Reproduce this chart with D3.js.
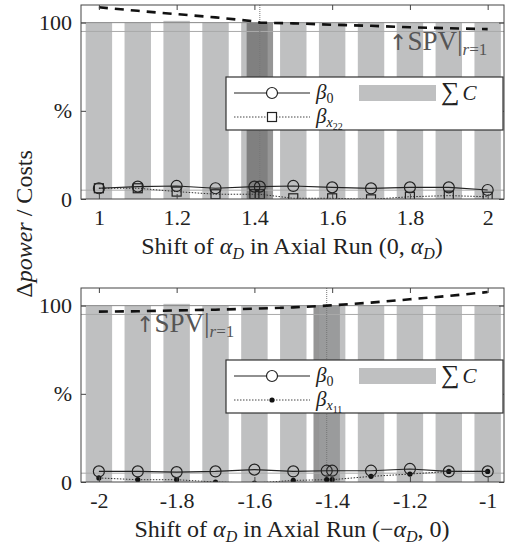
<!DOCTYPE html>
<html>
<head>
<meta charset="utf-8">
<script src="https://d3js.org/d3.v7.min.js"></script>
<style>
  body { margin: 0; background: #fff; }
  text { font-family: "Liberation Serif", "DejaVu Serif", serif; fill: #222; }
</style>
</head>
<body>
<div id="chart"></div>
<script>
// data
var xTop = [1, 1.1, 1.2, 1.3, 1.4, 1.414, 1.5, 1.6, 1.7, 1.8, 1.9, 2];
var costTop = [100, 100, 101, 100, 100, 100, 100, 100, 100, 100, 100, 100];
var spvTop = [108.7, 106.7, 104.8, 103, 100.7, 100, 99.6, 98.8, 98.2, 97.4, 96.8, 96.3];
var beta0Top = [6.1, 7, 7.4, 6.1, 7, 7, 7.4, 6.6, 6, 6.6, 6.6, 5.1];
var betaX22Top = [6.1, 6.1, 4.2, 2.7, 2.7, 2.7, 0.4, 0.4, -0.2, 1.3, 1.9, 1.3];
var xTicksTop = [1, 1.2, 1.4, 1.6, 1.8, 2];

var xBot = [-2, -1.9, -1.8, -1.7, -1.6, -1.5, -1.414, -1.4, -1.3, -1.2, -1.1, -1];
var costBot = [100, 100, 101, 100, 100, 100, 100, 100, 100, 100, 100, 100];
var spvBot = [96.6, 96.8, 97.3, 97.7, 98.3, 99, 100, 100.2, 101.7, 103.6, 105.5, 107.7];
var beta0Bot = [6, 6, 5.6, 6, 7, 6, 6.4, 6.4, 6.4, 7.4, 6, 6];
var betaX11Bot = [2.3, 1.3, 1.3, 0, -0.6, 0.9, 1.3, 1.3, 3.2, 4.5, 6, 6];
var xTicksBot = [-2, -1.8, -1.6, -1.4, -1.2, -1];

var yTicks = [0, 50, 100];
var yTickLabels = ["0", "%", "100"];
var refLines = [100, 95, 5];

var width = 507, height = 546;
var left = 81, right = 504;

var svg = d3.select("#chart").append("svg")
    .attr("width", width)
    .attr("height", height);

function drawPanel(p) {
    var x = d3.scaleLinear().domain(p.xDomain).range([left, right]);
    var y = d3.scaleLinear().domain([0, 110]).range([p.bottom, p.top]);
    var g = svg.append("g");
    var clipId = "clip" + p.id;
    svg.append("clipPath").attr("id", clipId)
      .append("rect").attr("x", left).attr("y", p.top)
        .attr("width", right - left).attr("height", p.bottom - p.top);
    var plot = g.append("g").attr("clip-path", "url(#" + clipId + ")");

    // cost bars
    var bw = x(0.068) - x(0);
    plot.selectAll(".bar")
      .data(p.xs)
      .enter().append("rect")
        .attr("x", function(d) { return x(d) - bw / 2; })
        .attr("width", bw)
        .attr("y", function(d, i) { return y(p.cost[i]); })
        .attr("height", function(d, i) { return y(0) - y(p.cost[i]); })
        .attr("fill", function(d) { return Math.abs(Math.abs(d) - 1.414) < 0.001 ? "#5e5e5e" : "#9d9e9f"; })
        .attr("fill-opacity", 0.65);

    // reference lines
    plot.selectAll(".ref")
      .data(refLines)
      .enter().append("line")
        .attr("x1", left).attr("x2", right)
        .attr("y1", function(d) { return y(d); })
        .attr("y2", function(d) { return y(d); })
        .attr("stroke", function(d) { return d == 100 ? "#888" : "#aaa"; })
        .attr("stroke-width", 1);

    // rotatable alpha marker
    plot.append("line")
        .attr("x1", x(p.rot)).attr("x2", x(p.rot))
        .attr("y1", p.top).attr("y2", p.bottom)
        .attr("stroke", "#777").attr("stroke-width", 1)
        .attr("stroke-dasharray", "1,1");

    // SPV dashed curve
    var line = d3.line()
        .x(function(d) { return x(d[0]); })
        .y(function(d) { return y(d[1]); });
    plot.append("path")
        .datum(d3.zip(p.xs, p.spv))
        .attr("d", line)
        .attr("fill", "none")
        .attr("stroke", "#111")
        .attr("stroke-width", 2.6)
        .attr("stroke-dasharray", "9,7");

    // beta_x line (dotted) and markers
    var bx = d3.zip(p.xs, p.betaX);
    plot.append("path")
        .datum(bx)
        .attr("d", line)
        .attr("fill", "none")
        .attr("stroke", "#333")
        .attr("stroke-width", 1)
        .attr("stroke-dasharray", "1.5,1.5");
    if (p.marker == "square") {
        plot.selectAll(".sq").data(bx).enter().append("rect")
            .attr("x", function(d) { return x(d[0]) - 4.5; })
            .attr("y", function(d) { return y(d[1]) - 4.5; })
            .attr("width", 9).attr("height", 9)
            .attr("fill", "none").attr("stroke", "#222").attr("stroke-width", 1.2);
    } else {
        plot.selectAll(".dot").data(bx).enter().append("circle")
            .attr("cx", function(d) { return x(d[0]); })
            .attr("cy", function(d) { return y(d[1]); })
            .attr("r", 2.6)
            .attr("fill", "#111");
    }

    // beta_0 line and circles
    var b0 = d3.zip(p.xs, p.beta0);
    plot.append("path")
        .datum(b0)
        .attr("d", line)
        .attr("fill", "none")
        .attr("stroke", "#222")
        .attr("stroke-width", 1.1);
    plot.selectAll(".circ").data(b0).enter().append("circle")
        .attr("cx", function(d) { return x(d[0]); })
        .attr("cy", function(d) { return y(d[1]); })
        .attr("r", 5.5)
        .attr("fill", "none").attr("stroke", "#222").attr("stroke-width", 1.2);

    // axes (ticks inside, MATLAB style)
    g.append("g").attr("transform", "translate(0," + p.bottom + ")")
        .call(d3.axisBottom(x).tickValues(p.ticks).tickSize(-5).tickPadding(10)
              .tickFormat(function(d) { return String(d); }))
        .call(styleAxis);
    g.append("g").attr("transform", "translate(0," + p.top + ")")
        .call(d3.axisTop(x).tickValues(p.ticks).tickSize(-5).tickFormat(""))
        .call(styleAxis);
    g.append("g").attr("transform", "translate(" + left + ",0)")
        .call(d3.axisLeft(y).tickValues(yTicks).tickSize(-5).tickPadding(9)
              .tickFormat(function(d, i) { return yTickLabels[i]; }))
        .call(styleAxis);
    g.append("g").attr("transform", "translate(" + right + ",0)")
        .call(d3.axisRight(y).tickValues(yTicks).tickSize(-5).tickFormat(""))
        .call(styleAxis);
    g.append("rect")
        .attr("x", left).attr("y", p.top)
        .attr("width", right - left).attr("height", p.bottom - p.top)
        .attr("fill", "none").attr("stroke", "#444").attr("stroke-width", 1);

    // x label
    var xl = g.append("text")
        .attr("x", 292).attr("y", p.bottom + 55)
        .attr("text-anchor", "middle")
        .style("font-size", "24px");
    xl.append("tspan").text("Shift of ");
    xl.append("tspan").style("font-style", "italic").text("α");
    xl.append("tspan").attr("dy", 5).style("font-size", "16px").style("font-style", "italic").text("D");
    xl.append("tspan").attr("dy", -5).text(" in Axial Run (" + p.labelPre);
    xl.append("tspan").style("font-style", "italic").text("α");
    xl.append("tspan").attr("dy", 5).style("font-size", "16px").style("font-style", "italic").text("D");
    xl.append("tspan").attr("dy", -5).text(p.labelPost + ")");

    // SPV annotation
    var an = g.append("text")
        .attr("x", p.annX).attr("y", p.annY)
        .style("font-size", "27px").style("fill", "#555");
    an.append("tspan")
        .style("font-family", "'DejaVu Sans', sans-serif")
        .style("font-size", "22px").text("↑");
    an.append("tspan").text("SPV");
    an.append("tspan").style("font-size", "28px").text("|");
    an.append("tspan").attr("dy", 5).style("font-size", "17px").style("font-style", "italic").text("r");
    an.append("tspan").style("font-size", "17px").text("=1");

    // legend
    var ly = p.top + 72;
    var lg = g.append("g");
    lg.append("rect")
        .attr("x", 226).attr("y", ly).attr("width", 277).attr("height", 53)
        .attr("fill", "#fff").attr("stroke", "#333").attr("stroke-width", 1.2);
    var r1 = ly + 16, r2 = ly + 40;
    lg.append("line").attr("x1", 234).attr("x2", 310).attr("y1", r1).attr("y2", r1)
        .attr("stroke", "#222").attr("stroke-width", 1.1);
    lg.append("circle").attr("cx", 272).attr("cy", r1).attr("r", 5.5)
        .attr("fill", "#fff").attr("stroke", "#222").attr("stroke-width", 1.2);
    lg.append("line").attr("x1", 234).attr("x2", 310).attr("y1", r2).attr("y2", r2)
        .attr("stroke", "#444").attr("stroke-width", 1).attr("stroke-dasharray", "1.5,1.5");
    if (p.marker == "square") {
        lg.append("rect").attr("x", 267.5).attr("y", r2 - 4.5).attr("width", 9).attr("height", 9)
            .attr("fill", "#fff").attr("stroke", "#222").attr("stroke-width", 1.2);
    } else {
        lg.append("circle").attr("cx", 272).attr("cy", r2).attr("r", 2.6).attr("fill", "#111");
    }
    lg.append("rect").attr("x", 359).attr("y", r1 - 8).attr("width", 77).attr("height", 16)
        .attr("fill", "#9d9e9f").attr("fill-opacity", 0.65);

    var t1 = lg.append("text").attr("x", 316).attr("y", r1 + 6).style("font-size", "21px");
    t1.append("tspan").style("font-style", "italic").text("β");
    t1.append("tspan").attr("dy", 4).style("font-size", "14px").text("0");
    var t2 = lg.append("text").attr("x", 316).attr("y", r2 + 6).style("font-size", "21px");
    t2.append("tspan").style("font-style", "italic").text("β");
    t2.append("tspan").attr("dy", 4).style("font-size", "14px").style("font-style", "italic").text("x");
    t2.append("tspan").attr("dy", 3).style("font-size", "10px").text(p.subIdx);
    var t3 = lg.append("text").attr("x", 441).attr("y", r1 + 7).style("font-size", "21px");
    t3.append("tspan").style("font-size", "26px").text("∑");
    t3.append("tspan").attr("dx", 3).style("font-style", "italic").text("C");
}

function styleAxis(sel) {
    sel.select(".domain").remove();
    sel.selectAll(".tick line").attr("stroke", "#444");
    sel.selectAll(".tick text")
        .style("font-family", "'Liberation Serif', serif")
        .style("font-size", "22px")
        .attr("fill", "#222");
}

drawPanel({
    id: "top", top: 5, bottom: 199,
    xDomain: [0.954, 2.042], xs: xTop, cost: costTop, spv: spvTop,
    beta0: beta0Top, betaX: betaX22Top, ticks: xTicksTop, rot: 1.414,
    marker: "square", subIdx: "22", labelPre: "0, ", labelPost: "",
    annX: 389, annY: 50
});
drawPanel({
    id: "bot", top: 288, bottom: 482,
    xDomain: [-2.046, -0.958], xs: xBot, cost: costBot, spv: spvBot,
    beta0: beta0Bot, betaX: betaX11Bot, ticks: xTicksBot, rot: -1.414,
    marker: "dot", subIdx: "11", labelPre: "−", labelPost: ", 0",
    annX: 136, annY: 332
});

// shared y label
var yl = svg.append("text")
    .attr("transform", "translate(32,224) rotate(-90)")
    .attr("text-anchor", "middle")
    .style("font-size", "24px");
yl.append("tspan").text("Δ");
yl.append("tspan").style("font-style", "italic").text("power");
yl.append("tspan").text(" / Costs");
</script>
</body>
</html>
